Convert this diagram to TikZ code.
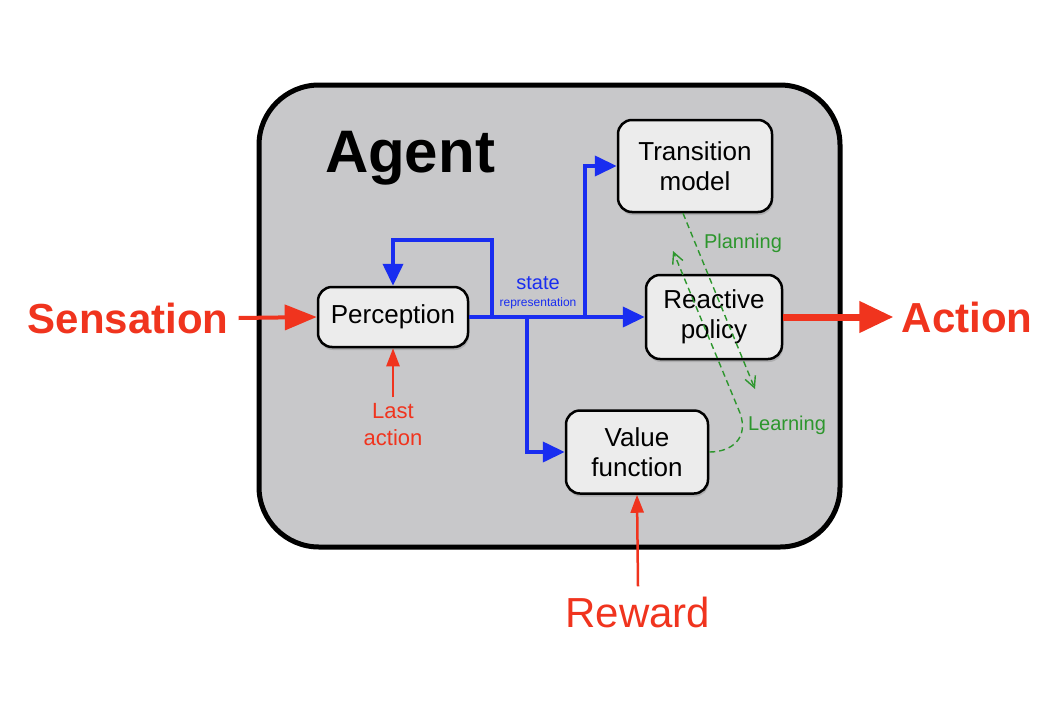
\documentclass[tikz,border=0pt]{standalone}
\usepackage{fontspec}
\setmainfont{Liberation Sans}
\usetikzlibrary{arrows.meta,shadows}

\definecolor{agentgray}{RGB}{200,200,202}
\definecolor{modulefill}{RGB}{236,236,236}
\definecolor{signalred}{RGB}{240,52,30}
\definecolor{stateblue}{RGB}{25,45,240}
\definecolor{loopgreen}{RGB}{45,150,45}

\tikzset{
  module/.style={draw=black, line width=2.5pt, fill=modulefill, rounded corners=14pt,
    align=center, font=\fontsize{26}{30}\selectfont,
    drop shadow={opacity=0.35, shadow xshift=1pt, shadow yshift=-3pt}},
  flow/.style={stateblue, line width=4pt, -{Triangle[length=22pt,width=20pt]}},
  sense/.style={signalred, line width=4pt, -{Triangle[length=32pt,width=25pt]}},
  act/.style={signalred, line width=7pt, -{Triangle[length=34pt,width=30pt]}},
  cue/.style={signalred, line width=2.5pt, -{Triangle[length=18pt,width=13pt]}},
  plan/.style={loopgreen, line width=1.4pt, dash pattern=on 6pt off 4pt,
    -{Straight Barb[length=11pt,width=11pt]}},
  bigword/.style={signalred, inner sep=2pt, font=\fontsize{42}{46}\selectfont}
}

\begin{document}
\begin{tikzpicture}[x=1pt, y=-1pt]
\useasboundingbox (0,0) rectangle (1054,720);

% agent frame
\draw[line width=5pt, fill=agentgray, rounded corners=60pt] (259,85) rectangle (840,547);
\node[font=\fontsize{60}{64}\selectfont\bfseries] (agent) at (410,158) {Agent};

% modules
\node[module, minimum width=150, minimum height=60] (perception) at (393,317) {Perception};
\node[module, minimum width=154, minimum height=92] (transition) at (695,166) {Transition\\model};
\node[module, minimum width=136, minimum height=84] (policy) at (714,317) {Reactive\\policy};
\node[module, minimum width=142, minimum height=83] (value) at (637,452) {Value\\function};

% outside signals
\node[bigword, font=\fontsize{42}{46}\selectfont\bfseries] (sensation) at (128,318) {Sensation};
\node[bigword, font=\fontsize{42}{46}\selectfont\bfseries] (action) at (967,317) {Action};
\node[bigword] (reward) at (638,612) {Reward};
\node[signalred, align=center, font=\fontsize{22}{27}\selectfont] (lastaction) at (393,425) {Last\\action};

% state representation
\node[stateblue, font=\fontsize{20}{22}\selectfont] (state) at (538,283) {state};
\node[stateblue, font=\fontsize{12}{14}\selectfont] (repr) at (538,303) {representation};

\coordinate (loop) at (492,317);
\coordinate (splitdown) at (527,317);
\coordinate (splitup) at (585,317);

\draw[flow] (perception.east) -- (policy.west);
\draw[flow] (loop) -- ++(0,-77) -| (perception.north);
\draw[flow] (splitup) |- (transition.west);
\draw[flow] (splitdown) |- (value.west);

% red arrows
\draw[sense] ([xshift=8pt]sensation.east) -- (perception.west);
\draw[act] (policy.east) -- ([xshift=-6pt]action.west);
\draw[cue] ([yshift=3pt]lastaction.north) -- (perception.south);
\draw[cue] ([yshift=8pt]reward.north) -- (value.south);

% planning / learning
\coordinate (plantip) at (755,389);
\coordinate (learntip) at (673,251);
\draw[plan] ([xshift=-12pt]transition.south) -- (plantip);
\draw[plan] (value.east) .. controls (732,452) and (749,438) .. (740,413) -- (learntip);
\node[loopgreen, font=\fontsize{20}{22}\selectfont] (planning) at (743,243) {Planning};
\node[loopgreen, font=\fontsize{20}{22}\selectfont] (learning) at (787,425) {Learning};

\end{tikzpicture}
\end{document}
